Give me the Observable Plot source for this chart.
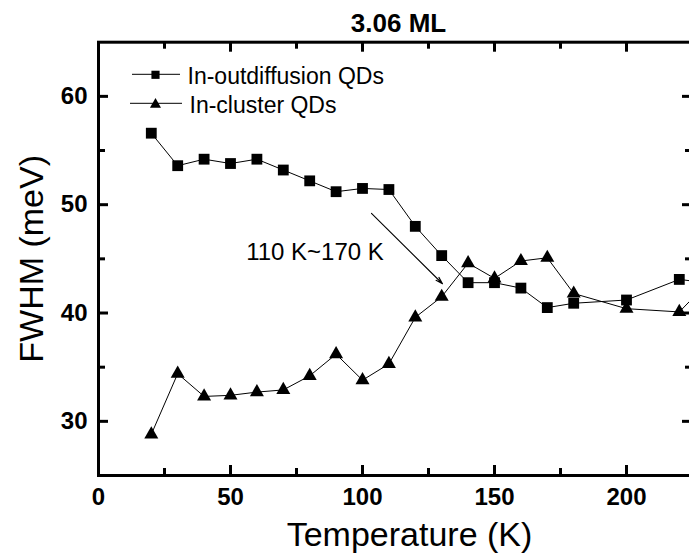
<!DOCTYPE html>
<html>
<head>
<meta charset="utf-8">
<script src="https://cdn.jsdelivr.net/npm/d3@7"></script>
<script src="https://cdn.jsdelivr.net/npm/@observablehq/plot@0.6"></script>
<style>
  html, body { margin: 0; padding: 0; background: #fff; overflow: hidden; }
  #chart { width: 689px; height: 553px; overflow: hidden; position: relative; }
  #chart svg { display: block; }
</style>
</head>
<body>
<div id="chart"></div>
<script>
// Measurement temperatures (K)
const temperature = [20, 30, 40, 50, 60, 70, 80, 90, 100, 110, 120, 130, 140, 150, 160, 170, 180, 200, 220, 230];
// FWHM (meV) of the two dot families
const outdiffusion = [56.6, 53.6, 54.2, 53.8, 54.2, 53.2, 52.2, 51.2, 51.5, 51.4, 48.0, 45.3, 42.8, 42.8, 42.3, 40.5, 40.9, 41.2, 43.1, 42.8];
const cluster = [28.8, 34.4, 32.3, 32.4, 32.7, 32.9, 34.2, 36.2, 33.8, 35.3, 39.6, 41.5, 44.6, 43.2, 44.8, 45.1, 41.8, 40.4, 40.1, 42.6];

const seriesNames = ["In-outdiffusion QDs", "In-cluster QDs"];
const xMajorTicks = [0, 50, 100, 150, 200];
const xMinorTicks = [25, 75, 125, 175, 225];
const yMajorTicks = [30, 40, 50, 60];
const yMinorTicks = [35, 45, 55];
const titleText = "3.06 ML";
const xLabel = "Temperature (K)";
const yLabel = "FWHM (meV)";

// Annotation: temperature window where the two widths cross
const annotations = [{label: "110 K~170 K", t: 82, v: 44.85}];
const arrows = [{t1: 103.4, v1: 49.2, t2: 130.3, v2: 42.7}];

const rowsOut = temperature.map((t, i) => ({t, v: outdiffusion[i]}));
const rowsCluster = temperature.map((t, i) => ({t, v: cluster[i]}));

const font = "'Liberation Sans', Arial, Helvetica, sans-serif";

// plot-area geometry
const W = 695, H = 553;
const mL = 98, mR = 3, mT = 41.7, mB = 78;
const frameW = W - mL - mR;
const frameH = H - mT - mB;
const tickStroke = 3;
const majorLen = 10, minorLen = 7;

// inward-pointing tick marks on all four sides
function ticksX(values, size, side) {
  const inset = side === "bottom" ? {insetTop: frameH - size} : {insetBottom: frameH - size};
  return Plot.tickX(values, {x: d => d, stroke: "#000", strokeWidth: tickStroke, ...inset});
}
function ticksY(values, size, side) {
  const inset = side === "left" ? {insetRight: frameW - size} : {insetLeft: frameW - size};
  return Plot.tickY(values, {y: d => d, stroke: "#000", strokeWidth: tickStroke, ...inset});
}

const chart = Plot.plot({
  width: W,
  height: H,
  marginLeft: mL,
  marginRight: mR,
  marginTop: mT,
  marginBottom: mB,
  style: {fontFamily: font, background: "#fff", maxWidth: "none", color: "#000"},
  x: {domain: [0, 225], label: null},
  y: {domain: [25, 65], label: null},
  marks: [
    Plot.frame({stroke: "#000", strokeWidth: 3}),
    ticksX(xMajorTicks, majorLen, "bottom"),
    ticksX(xMinorTicks, minorLen, "bottom"),
    ticksX(xMajorTicks, majorLen, "top"),
    ticksX(xMinorTicks, minorLen, "top"),
    ticksY(yMajorTicks, majorLen, "left"),
    ticksY(yMinorTicks, minorLen, "left"),
    ticksY(yMajorTicks, majorLen, "right"),
    ticksY(yMinorTicks, minorLen, "right"),
    // tick labels
    Plot.axisX({anchor: "bottom", ticks: xMajorTicks, tickSize: 0, tickPadding: 12, fontSize: 24, fontWeight: "bold", label: null}),
    Plot.axisY({anchor: "left", ticks: yMajorTicks, tickSize: 0, tickPadding: 11, fontSize: 24, fontWeight: "bold", label: null}),

    // series
    Plot.line(rowsOut, {x: "t", y: "v", stroke: "#000", strokeWidth: 1}),
    Plot.line(rowsCluster, {x: "t", y: "v", stroke: "#000", strokeWidth: 1}),
    Plot.dot(rowsOut, {x: "t", y: "v", symbol: "square", r: 6.1, fill: "#000", stroke: "none"}),
    Plot.dot(rowsCluster, {x: "t", y: "v", symbol: "triangle", r: 5.2, fill: "#000", stroke: "none"}),

    // annotation
    Plot.arrow(arrows, {x1: "t1", y1: "v1", x2: "t2", y2: "v2", stroke: "#000", strokeWidth: 1.1, headLength: 10, headAngle: 32}),
    Plot.text(annotations, {x: "t", y: "v", text: "label", lineAnchor: "bottom", textAnchor: "middle", fontSize: 24, fill: "#000"}),

    // title and axis titles
    Plot.text([titleText], {text: d => d, frameAnchor: "top", dx: 3, dy: -10, lineAnchor: "bottom", textAnchor: "middle", fontSize: 26, fontWeight: "bold", fill: "#000"}),
    Plot.text([xLabel], {text: d => d, frameAnchor: "bottom", dx: 14, dy: 70, lineAnchor: "bottom", textAnchor: "middle", fontSize: 34, fill: "#000"}),
    Plot.text([yLabel], {text: d => d, frameAnchor: "left", dx: -56, rotate: -90, lineAnchor: "bottom", textAnchor: "middle", fontSize: 34, fill: "#000"}),

    // legend
    Plot.dot([seriesNames[0]], {frameAnchor: "top-left", dx: 57, dy: 32.6, symbol: "square", r: 4.6, fill: "#000", stroke: "none"}),
    Plot.dot([seriesNames[1]], {frameAnchor: "top-left", dx: 57, dy: 62.3, symbol: "triangle", r: 4.1, fill: "#000", stroke: "none"}),
    Plot.text([seriesNames[0]], {text: d => d, frameAnchor: "top-left", dx: 89, dy: 41.6, lineAnchor: "bottom", textAnchor: "start", fontSize: 23, fill: "#000"}),
    Plot.text([seriesNames[1]], {text: d => d, frameAnchor: "top-left", dx: 91, dy: 70.6, lineAnchor: "bottom", textAnchor: "start", fontSize: 23, fill: "#000"})
  ]
});

// short line samples behind the legend symbols
const svg = d3.select(chart);
const legendLines = svg.insert("g", ":scope > g:last-of-type").attr("stroke", "#000").attr("stroke-width", 1);
legendLines.append("line").attr("x1", 132).attr("x2", 180).attr("y1", 74.3).attr("y2", 74.3);
legendLines.append("line").attr("x1", 130).attr("x2", 182).attr("y1", 103.3).attr("y2", 103.3);

document.getElementById("chart").appendChild(chart);
</script>
</body>
</html>
